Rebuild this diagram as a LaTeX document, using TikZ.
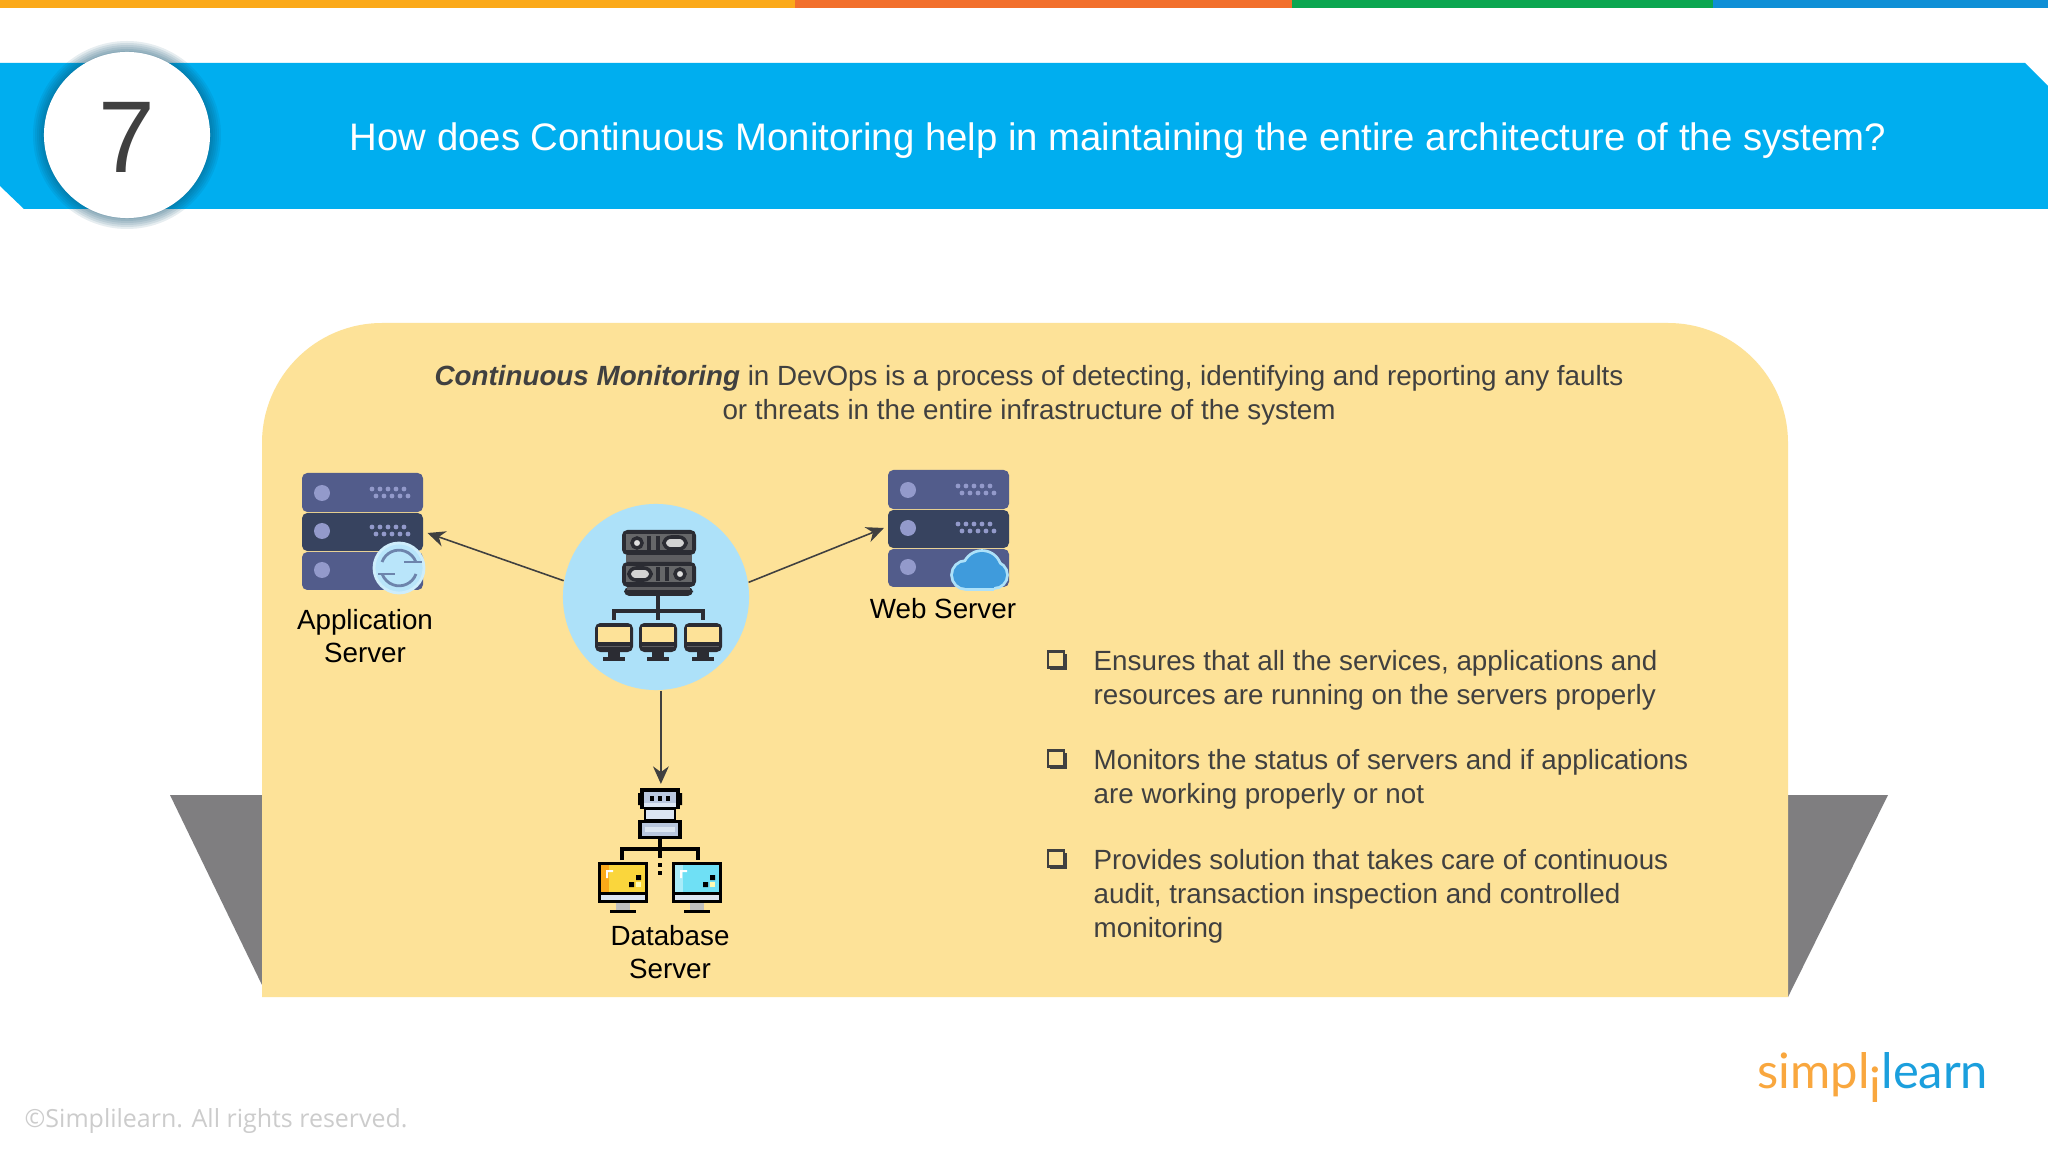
\documentclass[tikz,border=0pt]{standalone}
\usepackage{fontspec}
\usetikzlibrary{arrows.meta}
\setmainfont{Liberation Sans}
\newfontfamily\logofont{Lato}
\newfontfamily\footfont{Open Sans}
\definecolor{barorange}{HTML}{FBA919}
\definecolor{barred}{HTML}{F26F2C}
\definecolor{bargreen}{HTML}{0BA650}
\definecolor{barblue}{HTML}{0F8FD6}
\definecolor{bannerblue}{HTML}{00AEEF}
\definecolor{panelyellow}{HTML}{FDE298}
\definecolor{wedgegrey}{HTML}{7F7E80}
\definecolor{hubblue}{HTML}{ADE1F9}
\definecolor{inktext}{HTML}{404040}
\definecolor{inkdark}{HTML}{2B2C33}
\definecolor{rackblue}{HTML}{525C8B}
\definecolor{rackdark}{HTML}{37435F}
\definecolor{rackdot}{HTML}{939ACB}
\definecolor{shadowblue}{HTML}{0B4F70}
\definecolor{cloudblue}{HTML}{3F9BDC}
\definecolor{dbsteel}{HTML}{B9C7DE}
\definecolor{dbpale}{HTML}{DCE6F2}
\definecolor{dbyellow}{HTML}{FAD63C}
\definecolor{dbcyan}{HTML}{6FE0F5}
\definecolor{logoorange}{HTML}{F9A73E}
\definecolor{logoblue}{HTML}{1B9FDD}
\tikzset{
  arr/.style={draw=inktext, line width=0.45pt, -{Stealth[length=5pt,width=4.5pt]}},
  body/.style={text=inktext, font=\fontsize{7.9}{9.7}\selectfont, anchor=west, align=left, inner sep=0pt},
  srvlabel/.style={text=black, font=\fontsize{7.9}{9.6}\selectfont, align=center, inner sep=0pt},
  sq/.style={draw=inktext, line width=0.6pt, fill=panelyellow, minimum size=0.16cm, inner sep=0pt},
  box/.style={inner sep=0pt, outer sep=1pt}
}
\begin{document}
\begin{tikzpicture}[x=0.01cm, y=-0.01cm]
\useasboundingbox (0,0) rectangle (2048,1152);
\fill[white] (0,0) rectangle (2048,1152);
\fill[barorange] (0,0) rectangle (795,8);
\fill[barred] (795,0) rectangle (1292,8);
\fill[bargreen] (1292,0) rectangle (1713,8);
\fill[barblue] (1713,0) rectangle (2048,8);
\fill[bannerblue] (0,63) -- (2025,63) -- (2048,86) -- (2048,209) -- (24,209) -- (0,186) -- cycle;
\foreach \r in {94,92,90,88,86,84}
  \fill[shadowblue, opacity=0.1] (127,135) circle (\r);
\node[circle, fill=white, minimum size=1.66cm, inner sep=0pt] (numdisc) at (127,135) {};
\node[text=inktext, font=\fontsize{29}{29}\selectfont, inner sep=0pt] (num) at (127,137) {7};
\node[text=white, font=\fontsize{10.9}{13}\selectfont, inner sep=0pt] (title) at (1118,141) {How does Continuous Monitoring help in maintaining the entire architecture of the system?};
\fill[wedgegrey] (170,795) -- (262,795) -- (262,985) -- cycle;
\fill[wedgegrey] (1888,795) -- (1788,795) -- (1788,997) -- cycle;
\fill[panelyellow] (262,997) [rounded corners=1.2cm] -- (262,323) -- (1788,323) [sharp corners] -- (1788,997) -- cycle;
\node[text=inktext, font=\fontsize{7.9}{9.7}\selectfont, align=center, inner sep=0pt] (intro) at (1029,395.5) {\textbf{\textit{Continuous Monitoring}} in DevOps is a process of detecting, identifying and reporting any faults\\or threats in the entire infrastructure of the system};
\foreach \sx/\sy in {302/473,888/470} {
  \begin{scope}[shift={(\sx,\sy)}]
    \fill[rackblue, rounded corners=1.5pt] (0,0) rectangle (121,39);
    \fill[rackdark, rounded corners=1.5pt] (0,40) rectangle (121,78);
    \fill[rackblue, rounded corners=1.5pt] (0,79) rectangle (121,117);
    \foreach \ly in {20,58,97} \fill[rackdot] (20,\ly) circle (8);
    \foreach \ly in {0,38} {
      \foreach \dx in {70,78,...,102} \fill[rackdot] (\dx,\ly+16) circle (2.4);
      \foreach \dx in {74,82,...,106} \fill[rackdot] (\dx,\ly+23) circle (2.4);
    }
  \end{scope}
}
\fill[hubblue!85!white, draw=hubblue!60!white, line width=0.8pt] (399,568) circle (25);
\draw[rackblue!70!hubblue, line width=0.8pt] (382,562) arc (200:340:18) (416,574) arc (20:160:18);
\draw[rackblue!70!hubblue, line width=0.8pt] (404,562) -- (422,562) (378,574) -- (395,574);
\foreach \cx/\cy/\cr in {982/570/18,966/575/13,994/575/12}
  \draw[draw=hubblue, line width=1.6pt] (\cx,\cy) circle (\cr);
\draw[draw=hubblue, line width=1.6pt] (966,588) -- (994,588);
\foreach \cx/\cy/\cr in {982/570/18,966/575/13,994/575/12}
  \fill[cloudblue] (\cx,\cy) circle (\cr);
\fill[cloudblue] (966,575) rectangle (994,588);
\node[box, minimum width=1.22cm, minimum height=1.17cm] (appsrv) at (363,533) {};
\node[box, minimum width=1.19cm, minimum height=1.16cm] (websrv) at (947,528) {};
\node[circle, fill=hubblue, minimum size=1.86cm, inner sep=0pt] (hub) at (656,597) {};
\node[box, minimum width=1.25cm, minimum height=1.25cm] (dbsrv) at (660,850) {};
\fill[inkdark, rounded corners=1.5pt] (622,530) rectangle (696,555);
\fill[gray!70!inkdark] (626,534) rectangle (692,550);
\fill[gray!60!inkdark] (626,555) rectangle (692,562);
\fill[inkdark, rounded corners=1.5pt] (622,562) rectangle (696,587);
\fill[gray!70!inkdark] (626,566) rectangle (692,582);
\fill[inkdark, rounded corners=1.5pt] (624,587) rectangle (693,596);
\fill[gray!60!inkdark] (627,587) rectangle (690,590);
\foreach \bx/\by in {637/543,680/574} \fill[gray!25, draw=inkdark, line width=1pt] (\bx,\by) circle (5);
\foreach \bx/\by in {649/543,658/543,658/574,667/574} \fill[inkdark] (\bx-2,\by-7) rectangle (\bx+2,\by+7);
\foreach \bx/\by in {675/543,640/574} \fill[gray!35, draw=inkdark, line width=1pt, rounded corners=2pt] (\bx-11,\by-6) rectangle (\bx+11,\by+6);
\draw[inkdark, line width=1pt] (658,596) -- (658,620) (614,620) -- (614,611) -- (703,611) -- (703,620);
\foreach \mx in {614,658,703} {
  \fill[inkdark, rounded corners=1.5pt] (\mx-19,623) rectangle (\mx+19,652);
  \fill[panelyellow] (\mx-16,627) rectangle (\mx+16,642);
  \fill[gray!60!inkdark] (\mx-16,646) rectangle (\mx+16,647);
  \fill[inkdark] (\mx-6,652) rectangle (\mx+6,657);
  \fill[inkdark] (\mx-11,657) rectangle (\mx+11,661);
}
\fill[black] (640,788) rectangle (680,809);
\fill[black] (638,793) rectangle (642,805) (678,793) rectangle (682,805);
\fill[dbsteel] (644,792) rectangle (676,805);
\foreach \dx in {652,660,668} \fill[black] (\dx-2,796) rectangle (\dx+2,801);
\fill[dbpale] (644,803) rectangle (676,807);
\fill[dbpale] (645,809) rectangle (675,820);
\draw[black, line width=0.8pt] (645,809) rectangle (675,820);
\fill[black] (638,820) rectangle (682,839);
\fill[dbsteel] (642,823) rectangle (678,836);
\fill[dbpale] (645,827) rectangle (675,832);
\draw[black, line width=1pt] (660,839) -- (660,858) (622,860) -- (622,849) -- (698,849) -- (698,860);
\foreach \dy in {865,873} \fill[black] (658,\dy-2) rectangle (662,\dy+2);
\foreach \mx/\scr/\edge in {598/dbyellow/barorange,672/dbcyan/dbcyan!60!white} {
  \fill[black] (\mx,862) rectangle (\mx+50,903);
  \fill[\scr] (\mx+3,865) rectangle (\mx+47,892);
  \fill[\edge] (\mx+3,865) rectangle (\mx+11,892);
  \fill[dbpale] (\mx+3,895) rectangle (\mx+47,900);
  \fill[white] (\mx+8,870) rectangle (\mx+15,872) (\mx+8,870) rectangle (\mx+10,878);
  \fill[black] (\mx+38,875) rectangle (\mx+43,880) (\mx+31,882) rectangle (\mx+36,887);
  \fill[white!70!yellow] (\mx+38,882) rectangle (\mx+43,887);
  \fill[gray!50!white] (\mx+18,903) rectangle (\mx+32,910);
  \fill[black] (\mx+12,910) rectangle (\mx+38,913);
}
\draw[arr] (hub.170.7) -- (appsrv.east);
\draw[arr] (hub.9.3) -- (websrv.west);
\draw[arr] (hub.-87.5) -- (hub.-87.5 |- dbsrv.north);
\node[srvlabel] (applabel) at (365,636) {Application\\Server};
\node[srvlabel] (weblabel) at (943,609) {Web Server};
\node[srvlabel] (dblabel) at (670,952) {Database\\Server};
\foreach \sy/\sname in {661/sqa,760/sqb,860/sqc} {
  \fill[inktext] (1050,\sy-7) rectangle (1067,\sy+9);
  \node[sq] (\sname) at (1056,\sy-1.5) {};
}
\node[body] (pta) at (1093,680.5) {Ensures that all the services, applications and\\resources are running on the servers properly};
\node[body] (ptb) at (1093,779.5) {Monitors the status of servers and if applications\\are working properly or not};
\node[body] (ptc) at (1093,896.5) {Provides solution that takes care of continuous\\audit, transaction inspection and controlled\\monitoring};
\node[text=gray!40!white, font=\footfont\fontsize{7.1}{9}\selectfont, anchor=west, inner sep=0pt] (copy) at (24,1121) {©Simplilearn. All rights reserved.};
\node[font=\logofont\fontsize{13.9}{18}\selectfont, anchor=base west, inner sep=0pt] (logo) at (1757,1088) {\textcolor{logoorange}{simpl\raisebox{-0.3em}{i}}\textcolor{logoblue}{learn}};
\end{tikzpicture}
\end{document}
